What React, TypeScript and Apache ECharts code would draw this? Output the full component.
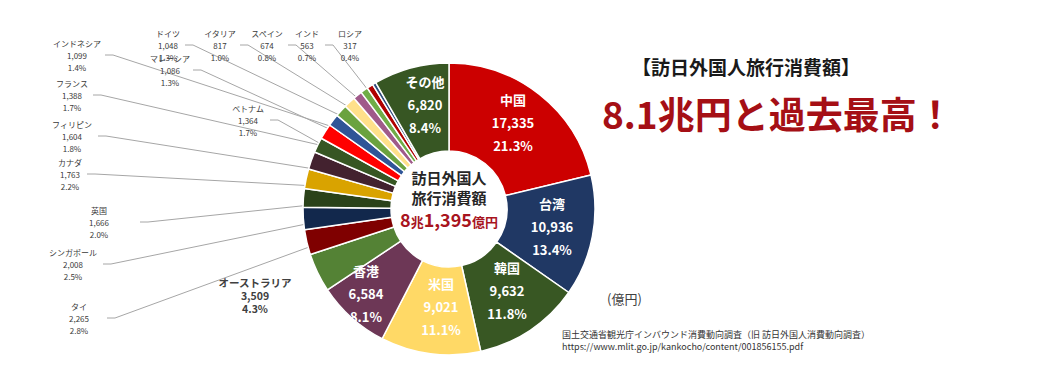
import React, { useEffect, useRef } from 'react';
import * as echarts from 'echarts';

const countries = ['中国', '台湾', '韓国', '米国', '香港', 'オーストラリア', 'タイ', 'シンガポール', '英国', 'カナダ', 'フィリピン', 'ベトナム', 'フランス', 'マレーシア', 'インドネシア', 'ドイツ', 'イタリア', 'スペイン', 'インド', 'ロシア', 'その他'];
const amounts = [17335, 10936, 9632, 9021, 6584, 3509, 2265, 2008, 1666, 1763, 1604, 1364, 1388, 1086, 1099, 1048, 817, 674, 563, 317, 6820];
const shares = ['21.3', '13.4', '11.8', '11.1', '8.1', '4.3', '2.8', '2.5', '2.0', '2.2', '1.8', '1.7', '1.7', '1.3', '1.4', '1.3', '1.0', '0.8', '0.7', '0.4', '8.4'];
const colors = ['#CC0000', '#203864', '#385723', '#FFD966', '#6D3756', '#548235', '#7F0000', '#12284C', '#2A4219', '#D9A300', '#43222F', '#375623', '#FF0000', '#2F5597', '#6AA23F', '#FFE08A', '#A05A8A', '#70AD47', '#B00000', '#2F4B7C', '#375623'];
const insideNames = ['中国', '台湾', '韓国', '米国', '香港', 'その他'];
const totalPrefix = '8';
const totalMid = '兆';
const totalNum = '1,395';
const totalUnit = '億円';
const titleLine = '【訪日外国人旅行消費額】';
const headline = '8.1兆円と過去最高！';
const unitText = '(億円)';
const sourceLines = ['国土交通省観光庁インバウンド消費動向調査（旧 訪日外国人消費動向調査）', 'https://www.mlit.go.jp/kankocho/content/001856155.pdf'];

const FONT = '"Noto Sans CJK JP", "Noto Sans", sans-serif';
const CX = 449;
const CY = 209;
const R0 = 58;
const R1 = 146;

// label layout: [centerX, centerY, leaderAnchorX | null]
const labelPlace: Record<string, [number, number, number | null]> = {
  '中国': [513, 122, null],
  '台湾': [552, 226, null],
  '韓国': [507, 290, null],
  '米国': [441, 306, null],
  '香港': [366, 293, null],
  'その他': [425, 104, null],
  'オーストラリア': [255, 295, null],
  'ドイツ': [168, 45, 185],
  'イタリア': [220, 45, 240],
  'スペイン': [267, 45, 288],
  'インド': [307, 45, 325],
  'ロシア': [350, 45, null],
  'インドネシア': [77, 55, 105],
  'マレーシア': [170, 70, 193],
  'フランス': [72, 95, 93],
  'ベトナム': [248, 120, 270],
  'フィリピン': [72, 136, 98],
  'カナダ': [70, 174, 87],
  '英国': [99, 222, 140],
  'シンガポール': [73, 264, 103],
  'タイ': [79, 318, 107],
};

export default function App() {
  const ref = useRef<HTMLDivElement>(null);
  useEffect(() => {
    document.body.style.margin = '0';
    const chart = echarts.init(ref.current as HTMLDivElement, null, { renderer: 'svg' });
    const total = amounts.reduce((a, b) => a + b, 0);
    const mids: number[] = [];
    let acc = 0;
    amounts.forEach((v) => {
      mids.push((acc + v / 2) / total);
      acc += v;
    });
    const rm = (R0 + R1) / 2;
    const midPoint = (i: number) => {
      const a = Math.PI / 2 - mids[i] * 2 * Math.PI;
      return [CX + rm * Math.cos(a), CY - rm * Math.sin(a)];
    };
    const data = countries.map((name, i) => {
      const inside = insideNames.includes(name);
      const big = name === 'オーストラリア';
      return {
        name,
        value: amounts[i],
        itemStyle: { color: colors[i] },
        label: inside
          ? { position: 'inside', color: '#ffffff', fontWeight: 'bold', fontSize: 13, lineHeight: 23, fontFamily: FONT }
          : big
          ? { position: 'outside', color: '#404040', fontWeight: 'bold', fontSize: 10.5, lineHeight: 13, fontFamily: FONT }
          : { position: 'outside', color: '#3a3a3a', fontSize: 8, lineHeight: 12, fontFamily: FONT },
        labelLine: { show: !inside && !big && labelPlace[name][2] != null },
      };
    });

    chart.setOption({
      animation: false,
      backgroundColor: '#ffffff',
      series: [
        {
          type: 'pie',
          center: [CX, CY],
          radius: [R0, R1],
          startAngle: 90,
          clockwise: true,
          avoidLabelOverlap: false,
          minShowLabelAngle: 0,
          itemStyle: { borderColor: '#ffffff', borderWidth: 1.5 },
          label: {
            formatter: (p: any) => `${p.name}\n${Number(p.value).toLocaleString('en-US')}\n${shares[p.dataIndex]}%`,
          },
          labelLine: { lineStyle: { color: '#A6A6A6', width: 1 }, smooth: false },
          labelLayout: (params: any) => {
            const name = countries[params.dataIndex];
            const place = labelPlace[name];
            if (!place) return {};
            const [x, y, ax] = place;
            const res: any = { x, y, align: 'center', verticalAlign: 'middle' };
            if (ax != null) {
              const [sx, sy] = midPoint(params.dataIndex);
              res.labelLinePoints = [[sx, sy], [ax + 8, y], [ax, y]];
            }
            return res;
          },
          emphasis: { disabled: true },
          data,
        },
      ],
      graphic: [
        {
          type: 'text',
          x: CX,
          y: 177,
          style: { text: '訪日外国人', fill: '#262626', font: `bold 15px ${FONT}`, textAlign: 'center', textVerticalAlign: 'middle' },
        },
        {
          type: 'text',
          x: CX,
          y: 197,
          style: { text: '旅行消費額', fill: '#262626', font: `bold 15px ${FONT}`, textAlign: 'center', textVerticalAlign: 'middle' },
        },
        {
          type: 'text',
          x: CX,
          y: 219,
          style: {
            text: `{b|${totalPrefix}}{s|${totalMid}}{b|${totalNum}}{s|${totalUnit}}`,
            textAlign: 'center',
            textVerticalAlign: 'middle',
            rich: {
              b: { fill: '#A8141E', fontSize: 18, fontWeight: 'bold', fontFamily: FONT, verticalAlign: 'bottom' },
              s: { fill: '#A8141E', fontSize: 13, fontWeight: 'bold', fontFamily: FONT, verticalAlign: 'bottom' },
            },
          },
        },
        {
          type: 'text',
          x: 746,
          y: 66,
          style: { text: titleLine, fill: '#1a1a1a', font: `bold 19px ${FONT}`, textAlign: 'center', textVerticalAlign: 'middle' },
        },
        {
          type: 'text',
          x: 602,
          y: 113,
          style: { text: headline, fill: '#A50F15', font: `bold 37px ${FONT}`, textAlign: 'left', textVerticalAlign: 'middle' },
        },
        {
          type: 'text',
          x: 607,
          y: 298,
          style: { text: unitText, fill: '#404040', font: `13px ${FONT}`, textAlign: 'left', textVerticalAlign: 'middle' },
        },
        {
          type: 'text',
          x: 562,
          y: 340,
          style: {
            text: sourceLines.join('\n'),
            fill: '#333333',
            font: `9px ${FONT}`,
            lineHeight: 12,
            textAlign: 'left',
            textVerticalAlign: 'middle',
          },
        },
      ],
    });
    return () => chart.dispose();
  }, []);
  return <div ref={ref} style={{ width: 1040, height: 390 }} />;
}
